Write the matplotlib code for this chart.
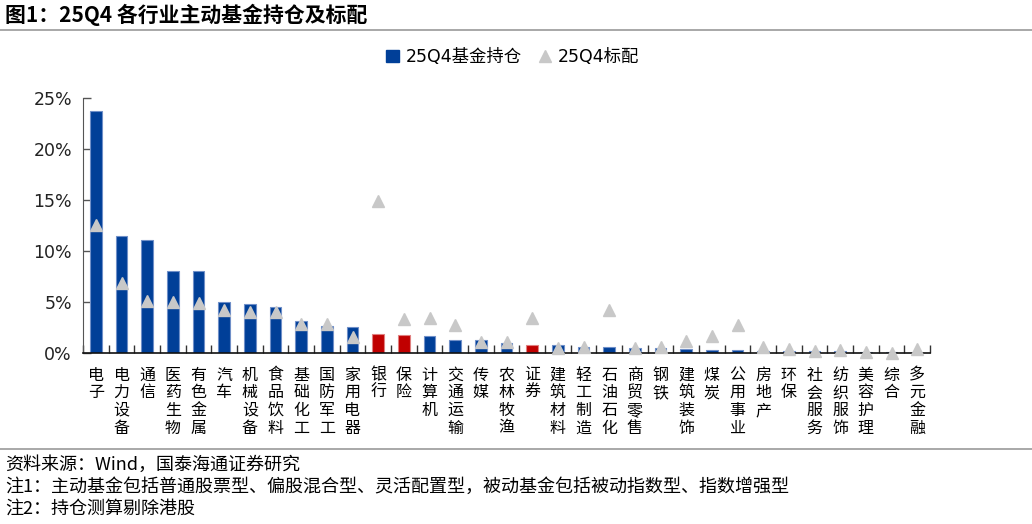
import matplotlib.pyplot as plt
import matplotlib.lines as mlines
import matplotlib.patches as mpatches
import numpy as np

plt.rcParams['font.family'] = ['DejaVu Sans', 'Noto Sans CJK SC']

industries = ['电子', '电力设备', '通信', '医药生物', '有色金属', '汽车', '机械设备',
              '食品饮料', '基础化工', '国防军工', '家用电器', '银行', '保险', '计算机',
              '交通运输', '传媒', '农林牧渔', '证券', '建筑材料', '轻工制造', '石油石化',
              '商贸零售', '钢铁', '建筑装饰', '煤炭', '公用事业', '房地产', '环保',
              '社会服务', '纺织服饰', '美容护理', '综合', '多元金融']
# 25Q4 主动基金持仓 (%)
holding = [23.8, 11.5, 11.1, 8.0, 8.0, 5.0, 4.75, 4.5, 3.1, 2.6, 2.5, 1.87, 1.70,
           1.61, 1.28, 1.28, 0.98, 0.72, 0.72, 0.59, 0.52, 0.43, 0.43, 0.36, 0.28,
           0.26, 0.16, 0.2, 0.16, 0.13, 0.1, 0.07, 0.0]
# 25Q4 标配 (%)
benchmark = [12.5, 6.85, 5.05, 4.98, 4.85, 4.2, 4.03, 4.03, 2.85, 2.78, 1.57, 14.9,
             3.28, 3.44, 2.69, 1.08, 1.05, 3.38, 0.49, 0.59, 4.2, 0.43, 0.59, 1.18,
             1.64, 2.72, 0.52, 0.33, 0.16, 0.26, 0.1, 0.0, 0.33]
financials = ['银行', '保险', '证券']

blue = '#003F98'
red = '#C00000'
gray = '#C8C8C8'

fig = plt.figure(figsize=(10.32, 5.24), dpi=100)
ax = fig.add_axes([83 / 1032, 1 - 352.7 / 524, 847 / 1032, (352.7 - 98.3) / 524])

x = np.arange(len(industries))
colors = [red if name in financials else blue for name in industries]
edges = ['#E08080' if name in financials else '#6F8FC8' for name in industries]
ax.bar(x, [v / 100 for v in holding], width=0.45, color=colors,
       edgecolor=edges, linewidth=0.8, zorder=2)
ax.plot(x, [v / 100 for v in benchmark], linestyle='none', marker='^',
        markersize=8.5, color=gray, markeredgecolor=gray, zorder=3, clip_on=False)

ax.set_xlim(-0.5, len(industries) - 0.5)
ax.set_ylim(0, 0.25)
ax.set_yticks([0, 0.05, 0.10, 0.15, 0.20, 0.25])
ax.set_yticklabels(['0%', '5%', '10%', '15%', '20%', '25%'], fontsize=12.5, color='#222222')
ax.set_xticks(x)
ax.set_xticklabels(['\n'.join(name) for name in industries], fontsize=11.5,
                   family=['Noto Sans CJK SC'], linespacing=1.05, va='top')
ax.set_xticks(np.arange(-0.5, len(industries)), minor=True)
ax.tick_params(axis='x', which='major', length=0, pad=10)
ax.tick_params(axis='x', which='minor', direction='in', length=6, width=1, color='#333333')
ax.tick_params(axis='y', direction='in', length=6, width=1, color='#555555', pad=8)
for side in ['top', 'right']:
    ax.spines[side].set_visible(False)
ax.spines['left'].set_color('#555555')
ax.spines['bottom'].set_color('#111111')
ax.spines['bottom'].set_linewidth(1.2)

# legend
h1 = mpatches.Patch(color=blue, label='25Q4基金持仓')
h2 = mlines.Line2D([], [], linestyle='none', marker='^', markersize=8.5, color=gray,
                   label='25Q4标配')
leg = fig.legend(handles=[h1, h2], loc='center', bbox_to_anchor=(0.497, 1 - 57 / 524),
                 ncol=2, frameon=False, fontsize=12.5, handlelength=0.7,
                 handleheight=0.7, handletextpad=0.4, columnspacing=1.0)

# title and footer
fig.text(0.005, 1 - 15 / 524, '图1：25Q4 各行业主动基金持仓及标配', fontsize=15,
         fontweight='bold', family=['Noto Sans CJK SC'], va='center', ha='left')
fig.add_artist(mlines.Line2D([0, 1], [1 - 30 / 524, 1 - 30 / 524], color='#999999', lw=1.2))
fig.add_artist(mlines.Line2D([0, 1], [1 - 449 / 524, 1 - 449 / 524], color='#999999', lw=1.2))
notes = ['资料来源：Wind，国泰海通证券研究',
         '注1：主动基金包括普通股票型、偏股混合型、灵活配置型，被动基金包括被动指数型、指数增强型',
         '注2：持仓测算剔除港股']
for i, note in enumerate(notes):
    fig.text(0.005, 1 - (465 + 22 * i) / 524, note, fontsize=13,
             family=['Noto Sans CJK SC'], va='center', ha='left')

fig.savefig('out.png', dpi=100)
